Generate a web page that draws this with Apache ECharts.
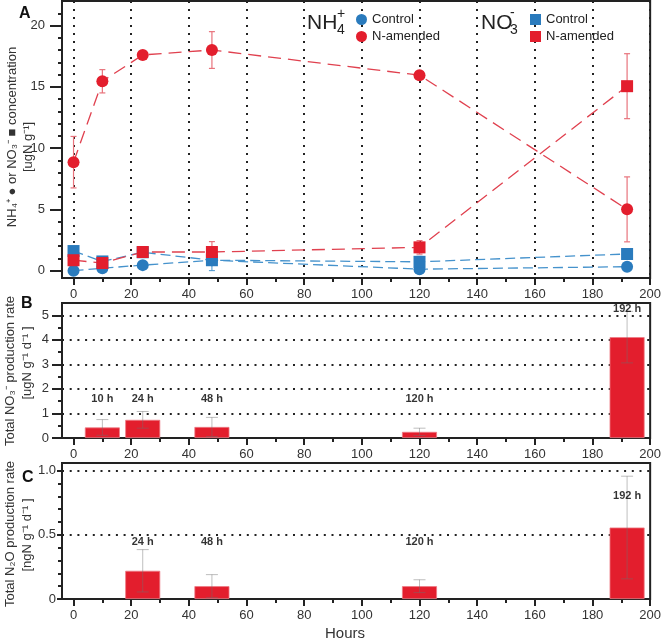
<!DOCTYPE html>
<html>
<head>
<meta charset="utf-8">
<script src="https://cdn.jsdelivr.net/npm/echarts@6/dist/echarts.min.js"></script>
<style>html,body{margin:0;padding:0;background:#fff;}#chart{width:664px;height:642px;}</style>
</head>
<body>
<div id="chart"></div>
<script>
// ---------- data ----------
const hoursA = [0, 10, 24, 48, 120, 192];
const nh4Amended = [8.85, 15.45, 17.6, 18.0, 15.95, 5.0];
const nh4AmendedErr = [2.1, 0.95, 0.25, 1.5, 0.3, 2.65];
const no3Amended = [0.85, 0.62, 1.52, 1.52, 1.9, 15.05];
const no3AmendedErr = [0.3, 0.2, 0.2, 0.85, 0.55, 2.65];
const nh4Control = [0.0, 0.2, 0.45, 0.85, 0.12, 0.32];
const nh4ControlErr = [0.1, 0.1, 0.1, 0.1, 0.1, 0.1];
const no3Control = [1.6, 0.75, 1.5, 0.85, 0.72, 1.36];
const no3ControlErr = [0.3, 0.2, 0.2, 0.85, 0.45, 0.2];

const hoursB = [10, 24, 48, 120, 192];
const no3Rate = [0.43, 0.74, 0.45, 0.25, 4.11];
const no3RateErr = [0.32, 0.34, 0.39, 0.15, 1.05];
const labelsB = ['10 h', '24 h', '48 h', '120 h', '192 h'];
const labelYB = [1.6, 1.6, 1.6, 1.6, 5.26];

const hoursC = [24, 48, 120, 192];
const n2oRate = [0.22, 0.10, 0.10, 0.557];
const n2oRateErr = [0.165, 0.09, 0.05, 0.40];
const labelsC = ['24 h', '48 h', '120 h', '192 h'];
const labelYC = [0.447, 0.447, 0.447, 0.80];

const xTicks = [0, 20, 40, 60, 80, 100, 120, 140, 160, 180, 200];
const xMinorTicks = [10, 30, 50, 70, 90, 110, 130, 150, 170, 190];
const yTicksA = [0, 5, 10, 15, 20];
const yMinorA = [1, 2, 3, 4, 6, 7, 8, 9, 11, 12, 13, 14, 16, 17, 18, 19, 21];
const yTicksB = [0, 1, 2, 3, 4, 5];
const yMinorB = [0.5, 1.5, 2.5, 3.5, 4.5];
const yTicksC = [0, 0.5, 1.0];
const yMinorC = [0.1, 0.2, 0.3, 0.4, 0.6, 0.7, 0.8, 0.9];

// ---------- styles ----------
const FONT = '"Liberation Sans", Arial, Helvetica, sans-serif';
const RED = '#e31e2d';
const RED_LINE = '#e0414f';
const RED_ERR = '#e8737c';
const BLUE = '#2a7bbd';
const BLUE_LINE = '#4592cc';
const AXIS = '#222';

const grids = [
  { left: 62, top: 1, width: 591, height: 277 },
  { left: 62, top: 303, width: 591, height: 135 },
  { left: 62, top: 463, width: 591, height: 136 }
];

function mainX(g) {
  return {
    type: 'value', gridIndex: g, position: 'bottom', min: -4, max: 200,
    axisLine: { show: true, onZero: false, lineStyle: { color: AXIS, width: 2 } },
    axisTick: { show: true, customValues: xTicks, length: 7, lineStyle: { color: AXIS, width: 2 } },
    axisLabel: { customValues: xTicks, color: '#333', fontSize: 13, fontFamily: FONT, margin: 10 },
    splitLine: { show: g === 0, lineStyle: { type: [2, 6], width: 2, color: AXIS } }
  };
}
function minorX(g) {
  return {
    type: 'value', gridIndex: g, position: 'bottom', min: -4, max: 200,
    axisLine: { show: false, onZero: false },
    axisTick: { show: true, customValues: xMinorTicks, length: 4, lineStyle: { color: AXIS, width: 2 } },
    axisLabel: { show: false },
    splitLine: { show: false }
  };
}
function mainY(g, min, max, ticks, split, tickLen, margin, fmt) {
  return {
    type: 'value', gridIndex: g, position: 'left', min: min, max: max,
    axisLine: { show: true, onZero: false, lineStyle: { color: AXIS, width: 2 } },
    axisTick: { show: true, customValues: ticks, length: tickLen, lineStyle: { color: AXIS, width: 2 } },
    axisLabel: { customValues: ticks, color: '#333', fontSize: 13, fontFamily: FONT, margin: margin, formatter: fmt },
    splitLine: { show: split, lineStyle: { type: [2, 5.7], width: 2, color: AXIS } }
  };
}
function minorY(g, min, max, ticks) {
  return {
    type: 'value', gridIndex: g, position: 'left', min: min, max: max,
    axisLine: { show: false, onZero: false },
    axisTick: { show: true, customValues: ticks, length: 4, lineStyle: { color: AXIS, width: 2 } },
    axisLabel: { show: false },
    splitLine: { show: false }
  };
}

function errRender(capW, color, width) {
  return function (params, api) {
    const x = api.value(0), lo = api.value(1), hi = api.value(2);
    const p1 = api.coord([x, lo]), p2 = api.coord([x, hi]);
    const st = { stroke: color, lineWidth: width };
    return {
      type: 'group', children: [
        { type: 'line', shape: { x1: p1[0], y1: p1[1], x2: p2[0], y2: p2[1] }, style: st },
        { type: 'line', shape: { x1: p1[0] - capW / 2, y1: p1[1], x2: p1[0] + capW / 2, y2: p1[1] }, style: st },
        { type: 'line', shape: { x1: p2[0] - capW / 2, y1: p2[1], x2: p2[0] + capW / 2, y2: p2[1] }, style: st }
      ]
    };
  };
}
function errData(xs, vals, errs) {
  return xs.map((h, i) => [h, vals[i] - errs[i], vals[i] + errs[i]]);
}
function errSeries(xi, yi, xs, vals, errs, capW, color, width, z) {
  return {
    type: 'custom', xAxisIndex: xi, yAxisIndex: yi, z: z, silent: true,
    renderItem: errRender(capW, color, width),
    encode: { x: 0, y: [1, 2] },
    data: errData(xs, vals, errs)
  };
}
function lineSeries(name, vals, symbol, size, color, lineColor, dash, z) {
  return {
    name: name, type: 'line', xAxisIndex: 0, yAxisIndex: 0, z: z,
    data: hoursA.map((h, i) => [h, vals[i]]),
    symbol: symbol, symbolSize: size, showSymbol: true,
    itemStyle: { color: color },
    lineStyle: { color: lineColor, width: 1.3, type: dash },
    emphasis: { disabled: true }
  };
}
function labelSeries(xi, yi, xs, ys, texts) {
  return {
    type: 'scatter', xAxisIndex: xi, yAxisIndex: yi, z: 10, silent: true,
    symbolSize: 1, itemStyle: { color: 'rgba(0,0,0,0)' },
    data: xs.map((h, i) => [h, ys[i], texts[i]]),
    label: {
      show: true, position: 'inside', formatter: p => p.data[2],
      fontSize: 11, fontWeight: 'bold', color: '#000', fontFamily: FONT
    }
  };
}
function barSeries(xi, yi, xs, vals) {
  return {
    type: 'bar', xAxisIndex: xi, yAxisIndex: yi, barWidth: 35, z: 3,
    data: xs.map((h, i) => [h, vals[i]]),
    itemStyle: { color: RED, borderColor: '#ee7a84', borderWidth: 0.8 },
    emphasis: { disabled: true }
  };
}

const option = {
  animation: false,
  backgroundColor: '#fff',
  textStyle: { fontFamily: FONT },
  grid: grids.map(g => Object.assign({ show: true, borderColor: AXIS, borderWidth: 2, backgroundColor: 'transparent', containLabel: false }, g)),
  xAxis: [mainX(0), minorX(0), mainX(1), minorX(1), mainX(2), minorX(2)],
  yAxis: [
    mainY(0, -0.6, 22, yTicksA, false, 12, 17),
    minorY(0, -0.6, 22, yMinorA),
    mainY(1, 0, 5.5, yTicksB, true, 10, 13),
    minorY(1, 0, 5.5, yMinorB),
    mainY(2, 0, 1.06, yTicksC, true, 5, 6, v => (v === 0 ? '0' : v.toFixed(1))),
    minorY(2, 0, 1.06, yMinorC)
  ],
  legend: [
    {
      data: [{ name: 'NH4 Control', icon: 'circle' }, { name: 'NH4 N-amended', icon: 'circle' }],
      orient: 'vertical', left: 351, top: 8, itemWidth: 11, itemHeight: 11, itemGap: 4, itemTextGap: 5,
      selectedMode: false, formatter: n => n.replace(/^NH4 /, ''),
      textStyle: { fontSize: 13, color: '#222', fontFamily: FONT }
    },
    {
      data: [{ name: 'NO3 Control', icon: 'rect' }, { name: 'NO3 N-amended', icon: 'rect' }],
      orient: 'vertical', left: 525, top: 8, itemWidth: 11, itemHeight: 11, itemGap: 4, itemTextGap: 7,
      selectedMode: false, formatter: n => n.replace(/^NO3 /, ''),
      textStyle: { fontSize: 13, color: '#222', fontFamily: FONT }
    }
  ],
  series: [
    errSeries(0, 0, hoursA, nh4Control, nh4ControlErr, 6, BLUE_LINE, 1, 2),
    errSeries(0, 0, hoursA, no3Control, no3ControlErr, 6, BLUE_LINE, 1, 2),
    errSeries(0, 0, hoursA, no3Amended, no3AmendedErr, 6, RED_ERR, 1.2, 2),
    errSeries(0, 0, hoursA, nh4Amended, nh4AmendedErr, 6, RED_ERR, 1.2, 2),
    lineSeries('NH4 Control', nh4Control, 'circle', 12, BLUE, BLUE_LINE, [10, 5], 3),
    lineSeries('NO3 Control', no3Control, 'rect', 12, BLUE, BLUE_LINE, [10, 5], 4),
    lineSeries('NO3 N-amended', no3Amended, 'rect', 12, RED, RED_LINE, [13, 7], 5),
    lineSeries('NH4 N-amended', nh4Amended, 'circle', 12, RED, RED_LINE, [13, 7], 6),

    barSeries(2, 2, hoursB, no3Rate),
    errSeries(2, 2, hoursB, no3Rate, no3RateErr, 12, 'rgba(110,110,110,0.45)', 1, 4),
    labelSeries(2, 2, hoursB, labelYB, labelsB),

    barSeries(4, 4, hoursC, n2oRate),
    errSeries(4, 4, hoursC, n2oRate, n2oRateErr, 12, 'rgba(110,110,110,0.45)', 1, 4),
    labelSeries(4, 4, hoursC, labelYC, labelsC)
  ],
  graphic: [
    { type: 'text', left: 19, top: 6, style: { text: 'A', font: 'bold 16px ' + FONT, fill: '#111' } },
    { type: 'text', left: 21, top: 296, style: { text: 'B', font: 'bold 16px ' + FONT, fill: '#111' } },
    { type: 'text', left: 22, top: 470, style: { text: 'C', font: 'bold 16px ' + FONT, fill: '#111' } },

    { type: 'text', x: 307, y: 23, style: { text: 'NH', font: '21px ' + FONT, fill: '#222', textVerticalAlign: 'middle' } },
    { type: 'text', x: 337, y: 14, style: { text: '+', font: '14px ' + FONT, fill: '#222', textVerticalAlign: 'middle' } },
    { type: 'text', x: 337, y: 30, style: { text: '4', font: '14px ' + FONT, fill: '#222', textVerticalAlign: 'middle' } },
    { type: 'text', x: 481, y: 23, style: { text: 'NO', font: '21px ' + FONT, fill: '#222', textVerticalAlign: 'middle' } },
    { type: 'text', x: 510, y: 13, style: { text: '-', font: '14px ' + FONT, fill: '#222', textVerticalAlign: 'middle' } },
    { type: 'text', x: 510, y: 30, style: { text: '3', font: '14px ' + FONT, fill: '#222', textVerticalAlign: 'middle' } },

    { type: 'text', x: 12, y: 137, rotation: Math.PI / 2, style: { text: 'NH₄⁺ ● or NO₃⁻ ■ concentration', font: '13px ' + FONT, fill: '#333', textAlign: 'center', textVerticalAlign: 'middle' } },
    { type: 'text', x: 28, y: 147, rotation: Math.PI / 2, style: { text: '[ugN g⁻¹]', font: '13px ' + FONT, fill: '#333', textAlign: 'center', textVerticalAlign: 'middle' } },
    { type: 'text', x: 10, y: 371, rotation: Math.PI / 2, style: { text: 'Total NO₃⁻ production rate', font: '13px ' + FONT, fill: '#333', textAlign: 'center', textVerticalAlign: 'middle' } },
    { type: 'text', x: 27, y: 363, rotation: Math.PI / 2, style: { text: '[ugN g⁻¹ d⁻¹ ]', font: '13px ' + FONT, fill: '#333', textAlign: 'center', textVerticalAlign: 'middle' } },
    { type: 'text', x: 10, y: 534, rotation: Math.PI / 2, style: { text: 'Total N₂O production rate', font: '13px ' + FONT, fill: '#333', textAlign: 'center', textVerticalAlign: 'middle' } },
    { type: 'text', x: 27, y: 535, rotation: Math.PI / 2, style: { text: '[ngN g⁻¹ d⁻¹ ]', font: '13px ' + FONT, fill: '#333', textAlign: 'center', textVerticalAlign: 'middle' } },

    { type: 'text', x: 345, y: 634, style: { text: 'Hours', font: '15px ' + FONT, fill: '#333', textAlign: 'center', textVerticalAlign: 'middle' } }
  ]
};

const chart = echarts.init(document.getElementById('chart'), null, { renderer: 'canvas' });
chart.setOption(option);
</script>
</body>
</html>
